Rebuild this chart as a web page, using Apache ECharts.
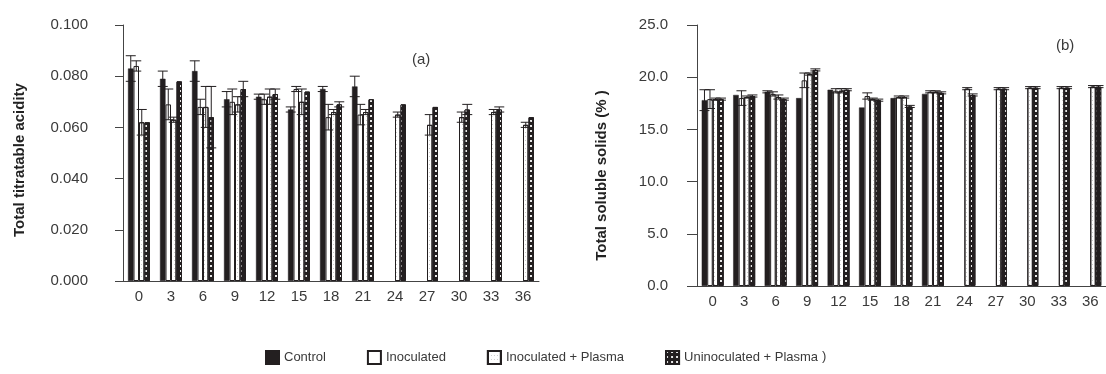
<!DOCTYPE html>
<html><head><meta charset="utf-8">
<script src="https://cdn.jsdelivr.net/npm/echarts@6/dist/echarts.min.js"></script>
<style>html,body{margin:0;padding:0;background:#fff}#c{width:1106px;height:374px}</style>
</head><body><div id="c"></div>
<script>
const days = ['0','3','6','9','12','15','18','21','24','27','30','33','36'];
const seriesNames = ['Control','Inoculated','Inoculated + Plasma','Uninoculated + Plasma'];
const yTicksA = ['0.000','0.020','0.040','0.060','0.080','0.100'];
const yTicksB = ['0.0','5.0','10.0','15.0','20.0','25.0'];

// (a) Total titratable acidity
const controlA   = [0.083,0.079,0.082,0.071,0.072,0.067,0.075,0.076,null,null,null,null,null];
const inocA      = [0.084,0.069,0.068,0.070,0.071,0.075,0.064,0.065,null,null,null,null,null];
const inocPlA    = [0.062,0.063,0.068,0.069,0.072,0.070,0.066,0.066,0.065,0.061,0.064,0.066,0.061];
const uninocPlA  = [0.062,0.078,0.064,0.075,0.073,0.074,0.069,0.071,0.069,0.068,0.067,0.067,0.064];
const controlErrA  = [0.005,0.003,0.004,0.003,0.001,0.001,0.001,0.004,0,0,0,0,0];
const inocErrA     = [0.002,0.006,0.003,0.005,0.002,0.001,0.005,0.004,0,0,0,0,0];
const inocPlErrA   = [0.005,0.001,0.008,0.003,0.003,0.005,0.001,0.001,0.001,0.004,0.002,0.001,0.001];
const uninocPlErrA = [0.000,0.000,0.012,0.003,0.002,0.000,0.001,0.000,0.000,0.000,0.002,0.001,0.000];

// (b) Total soluble solids (%)
const controlB   = [17.8,18.3,18.6,18.0,18.8,17.1,18.0,18.4,null,null,null,null,null];
const inocB      = [17.9,18.0,18.4,19.7,18.7,18.2,18.1,18.6,null,null,null,null,null];
const inocPlB    = [17.9,18.1,18.1,20.3,18.7,17.9,18.1,18.6,18.9,18.9,19.0,19.0,19.1];
const uninocPlB  = [17.9,18.2,17.9,20.7,18.8,17.8,17.2,18.5,18.3,18.9,19.0,19.0,19.1];
const controlErrB  = [1.0,0,0.1,0,0,0,0,0,0,0,0,0,0];
const inocErrB     = [0.9,0.7,0.2,0.7,0.2,0.3,0.1,0.1,0,0,0,0,0];
const inocPlErrB   = [0.1,0.1,0.2,0.1,0.2,0.1,0.1,0.1,0.1,0.1,0.1,0.1,0.1];
const uninocPlErrB = [0.1,0.1,0.1,0.1,0.1,0.1,0.1,0.1,0.1,0.1,0.1,0.1,0.1];

const BW = 5.5;
const FONT = 'Liberation Sans';
const dark = '#231f20';
const styles = [
  {color: dark, borderColor: dark, borderWidth: 0.5},
  {color: '#ffffff', borderColor: dark, borderWidth: 1},
  {color: '#ffffff', borderColor: dark, borderWidth: 1,
   decal: {symbol: 'rect', symbolSize: 0.6, color: '#555', dashArrayX: [1, 2], dashArrayY: [1, 3]}},
  {color: dark, borderColor: dark, borderWidth: 1,
   decal: {symbol: 'rect', symbolSize: 0.9, color: '#ffffff', dashArrayX: [2, 3], dashArrayY: [2, 3]}}
];

function barSeries(name, data, k, axisIdx) {
  return {name, type: 'bar', xAxisIndex: axisIdx, yAxisIndex: axisIdx, data,
          barWidth: BW, barGap: '0%', itemStyle: styles[k], emphasis: {disabled: true}};
}
function errSeries(vals, errs, k, axisIdx) {
  const data = [];
  vals.forEach((v, i) => { if (v != null && errs[i] > 0) data.push([i, v, errs[i]]); });
  return {type: 'custom', xAxisIndex: axisIdx, yAxisIndex: axisIdx, data, z: 5, silent: true,
    encode: {x: 0, y: 1},
    renderItem: function (params, api) {
      const i = api.value(0), v = api.value(1), e = api.value(2);
      const c = api.coord([i, v]);
      const cx = c[0] + (k - 1.5) * BW;
      const yt = api.coord([i, v + e])[1];
      const yb = api.coord([i, v - e])[1];
      const st = {stroke: dark, lineWidth: 1};
      return {type: 'group', children: [
        {type: 'line', shape: {x1: cx, y1: yt, x2: cx, y2: yb}, style: st},
        {type: 'line', shape: {x1: cx - 5, y1: yt, x2: cx + 5, y2: yt}, style: st},
        {type: 'line', shape: {x1: cx - 5, y1: yb, x2: cx + 5, y2: yb}, style: st}
      ]};
    }};
}

const axisCommon = {
  axisLine: {show: true, lineStyle: {color: '#444', width: 1}},
  splitLine: {show: false}
};
function xAxis(gi) {
  return Object.assign({type: 'category', gridIndex: gi, data: days,
    axisTick: {alignWithLabel: true, length: 5, lineStyle: {color: '#444'}},
    axisLabel: {fontSize: 15, color: '#3a3a3a', fontFamily: FONT, margin: 8, interval: 0}}, axisCommon);
}

const chart = echarts.init(document.getElementById('c'), null, {renderer: 'canvas'});
chart.setOption({
  animation: false,
  grid: [
    {left: 123, top: 25, width: 416, height: 256},
    {left: 697, top: 25, width: 413, height: 261}
  ],
  xAxis: [xAxis(0), xAxis(1)],
  yAxis: [
    Object.assign({type: 'value', gridIndex: 0, min: 0, max: 0.1, interval: 0.02,
      name: 'Total titratable acidity', nameLocation: 'middle', nameGap: 96,
      nameTextStyle: {fontSize: 15, fontWeight: 'bold', color: '#222', fontFamily: FONT, padding: [0, 14, 0, 0]},
      axisTick: {show: true, length: 8, lineStyle: {color: '#444'}},
      axisLabel: {fontSize: 15, color: '#3a3a3a', fontFamily: FONT, margin: 35,
        formatter: (v) => yTicksA[Math.round(v / 0.02)]}}, axisCommon),
    Object.assign({type: 'value', gridIndex: 1, min: 0, max: 25, interval: 5,
      name: 'Total soluble solids (% )', nameLocation: 'middle', nameGap: 88,
      nameTextStyle: {fontSize: 15, fontWeight: 'bold', color: '#222', fontFamily: FONT, padding: [0, 40, 0, 0]},
      axisTick: {show: true, length: 10, lineStyle: {color: '#444'}},
      axisLabel: {fontSize: 15, color: '#3a3a3a', fontFamily: FONT, margin: 29,
        formatter: (v) => yTicksB[Math.round(v / 5)]}}, axisCommon)
  ],
  legend: {data: seriesNames, left: 265, top: 350, padding: 0, itemWidth: 13, itemHeight: 13, itemGap: 41,
    icon: 'rect',
    textStyle: {fontSize: 13, color: '#3a3a3a', fontFamily: FONT}, selectedMode: false},
  graphic: [
    {type: 'text', left: 412, top: 52, style: {text: '(a)', font: '15px "Liberation Sans"', fill: '#3a3a3a'}},
    {type: 'text', left: 1056, top: 38, style: {text: '(b)', font: '15px "Liberation Sans"', fill: '#3a3a3a'}},
    {type: 'text', left: 822, top: 350, style: {text: ')', font: '13px "Liberation Sans"', fill: '#3a3a3a'}}
  ],
  series: [
    barSeries(seriesNames[0], controlA, 0, 0),
    barSeries(seriesNames[1], inocA, 1, 0),
    barSeries(seriesNames[2], inocPlA, 2, 0),
    barSeries(seriesNames[3], uninocPlA, 3, 0),
    errSeries(controlA, controlErrA, 0, 0),
    errSeries(inocA, inocErrA, 1, 0),
    errSeries(inocPlA, inocPlErrA, 2, 0),
    errSeries(uninocPlA, uninocPlErrA, 3, 0),
    barSeries(seriesNames[0], controlB, 0, 1),
    barSeries(seriesNames[1], inocB, 1, 1),
    barSeries(seriesNames[2], inocPlB, 2, 1),
    barSeries(seriesNames[3], uninocPlB, 3, 1),
    errSeries(controlB, controlErrB, 0, 1),
    errSeries(inocB, inocErrB, 1, 1),
    errSeries(inocPlB, inocPlErrB, 2, 1),
    errSeries(uninocPlB, uninocPlErrB, 3, 1)
  ]
});
</script></body></html>
